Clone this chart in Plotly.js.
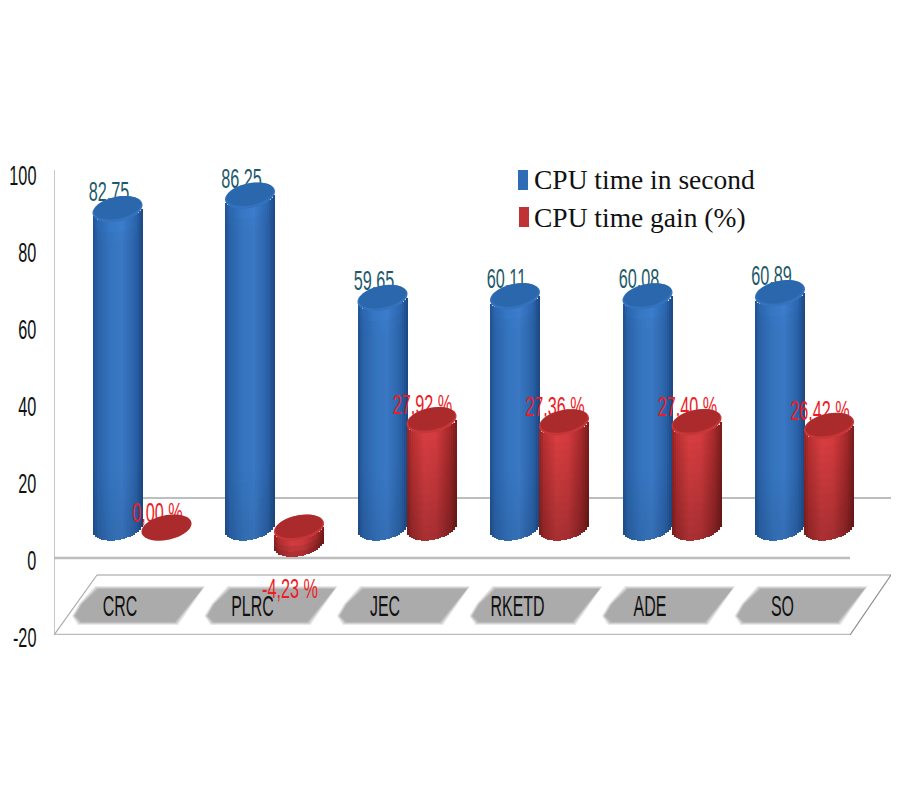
<!DOCTYPE html>
<html>
<head>
<meta charset="utf-8">
<script src="https://cdn.plot.ly/plotly-3.0.1.min.js"></script>
<style>html,body{margin:0;padding:0;background:#fff}</style>
</head>
<body>
<div id="chart" style="width:900px;height:800px"></div>
<script>
// ---- data ----
const categories = ['CRC', 'PLRC', 'JEC', 'RKETD', 'ADE', 'SO'];
const cpuTime = [82.75, 86.25, 59.65, 60.11, 60.08, 60.89];
const cpuGain = [0.00, -4.23, 27.92, 27.36, 27.40, 26.42];
const cpuTimeLabels = ['82,75', '86,25', '59,65', '60,11', '60,08', '60,89'];
const cpuGainLabels = ['0,00 %', '-4,23 %', '27,92 %', '27,36 %', '27,40 %', '26,42 %'];
const yTicks = [100, 80, 60, 40, 20, 0, -20];
const seriesNames = ['CPU time in second', 'CPU time gain (%)'];

// ---- geometry of the pseudo-3D drawing ----
const PX_X = 132.5, PX_Y = 3.85;      // pixels per data unit
const X0 = 142, Y0 = 558;             // pixel position of data origin
const L = 54, R = 891, T = 170, B = 635;
const dx = p => p / PX_X, dy = p => p / PX_Y;
const fx = p => (p - X0) / PX_X, fy = p => (Y0 - p) / PX_Y;
const FLOOR = 7.9;                    // the columns stand on this raised level
const OFFSET = 24.5, A = 25, Bb = 12.5, TILT = 4;

const blueProfile = [[-1,'#1f4f8e'],[-.8,'#2a62a8'],[-.3,'#3473bd'],[.15,'#3a78c4'],[.7,'#2a62a8'],[1,'#1b4680']];
const redProfile  = [[-1,'#962424'],[-.8,'#bb3032'],[-.3,'#dc3f42'],[.15,'#d83c40'],[.7,'#a92a2c'],[1,'#7d1c1c']];
const rgb = h => [1,3,5].map(i => parseInt(h.substr(i,2),16));
function shade(profile, u, f) {
  let k = 0;
  while (k < profile.length - 2 && u > profile[k+1][0]) k++;
  const a = profile[k], b = profile[k+1], t = Math.min(1, Math.max(0, (u-a[0])/(b[0]-a[0])));
  const ca = rgb(a[1]), cb = rgb(b[1]);
  return 'rgb(' + ca.map((c,i) => Math.round(Math.min(255,(c+(cb[i]-c)*t)*f))).join(',') + ')';
}
function stripes(values, off, profile, vert, segPx, name) {
  const x = [], y = [], base = [], width = [], color = [];
  const N = 25, w = 2 * A / N;
  values.forEach((v, i) => {
    const hi = FLOOR + Math.max(v, 0), lo = FLOOR + Math.min(v, 0);
    const h = hi - lo;
    if (h <= 0) return;
    const segs = Math.max(1, Math.ceil(h * PX_Y / segPx));
    for (let s = 0; s < N; s++) {
      const u = (s + .5) / N * 2 - 1;
      const edge = -Bb * Math.sqrt(1 - u*u) + TILT * u;
      for (let g = 0; g < segs; g++) {
        const tt = (g + .5) / segs;          // 0 bottom, 1 top
        x.push(i + dx(off) + dx(A * u));
        y.push(h / segs);
        base.push(lo + dy(edge) + h * g / segs);
        width.push(dx(w));
        color.push(shade(profile, u, vert(tt, h)));
      }
    }
  });
  return {type:'bar', x, y, base, width, marker:{color, line:{width:0}}, hoverinfo:'skip', showlegend:false, name};
}
function ellipse(cx, cyData, a, b, t, dyPx) {
  let d = '';
  for (let k = 0; k < 48; k++) {
    const th = k / 48 * 2 * Math.PI;
    const px = a * Math.cos(th), py = b * Math.sin(th) + t * Math.cos(th) + (dyPx || 0);
    d += (k ? 'L' : 'M') + (cx + dx(px)).toFixed(4) + ',' + (cyData + dy(py)).toFixed(3);
  }
  return d + 'Z';
}
function poly(pts) {
  return pts.map((p,k) => (k?'L':'M') + fx(p[0]).toFixed(4) + ',' + fy(p[1]).toFixed(3)).join('') + 'Z';
}
const shapes = [];
const sh = (path, fill, layer, line) => shapes.push({type:'path', xref:'x', yref:'y', path, fillcolor:fill, layer, line:line||{width:0}});
const seg = (x0,y0,x1,y1,color,w) => shapes.push({type:'line', xref:'x', yref:'y', x0:fx(x0), y0:fy(y0), x1:fx(x1), y1:fy(y1), layer:'below', line:{color, width:w}});

// back wall, zero plane, floor
seg(54,170,54,635,'#b4b4b4',1.5);
seg(143,498,891,498,'#a8a8a8',1.5);
seg(54,558,850,558,'#bdbdbd',2.5);
seg(54,635,850,635,'#bdbdbd',2.5);
seg(97,575,891,575,'#9a9a9a',1.2);
seg(54,635,97,575,'#aaaaaa',1.2);
seg(850,635,891,575,'#8c8c8c',1.2);
// grey plates behind category names
categories.forEach((c,i) => {
  const s = PX_X * i;
  const plate = g => poly([[97+s-g,588-g],[203+s+g,588-g],[176+s+g,623+g],[80+s-g,623+g],[74+s-g,616],[81+s-g,604]]);
  sh(plate(2),'#e8e8e8','below');
  sh(plate(1),'#d2d2d2','below');
  sh(plate(0),'#bcbcbc','below');
  sh(plate(-1),'#ababab','below');
});
function caps(values, off, rim, top) {
  values.forEach((v,i) => {
    const cx = i + dx(off), cy = FLOOR + Math.max(v,0);
    if (v !== 0) sh(ellipse(cx, cy, A, Bb, TILT), rim, 'above');
    sh(ellipse(cx, cy, v === 0 ? A : A - 1.5, v === 0 ? Bb : Bb - 1.5, TILT, v === 0 ? 0 : 1.2), top, 'above');
  });
}
caps(cpuTime, -OFFSET, '#3572bd', '#2b67ad');
caps(cpuGain, OFFSET, '#c43638', '#ab2b2c');

// legend marks
shapes.push({type:'rect',xref:'x',yref:'y',x0:fx(518),x1:fx(528),y0:fy(170),y1:fy(190),fillcolor:'#2f6cb6',line:{width:0},layer:'above'});
shapes.push({type:'rect',xref:'x',yref:'y',x0:fx(519),x1:fx(529),y0:fy(207),y1:fy(227),fillcolor:'#c03234',line:{width:0},layer:'above'});

const sans = '"Liberation Sans",sans-serif';
const labelFont = {family:sans, size:28};
const blueVert = (t,h) => {
  const fromTop = (1 - t) * h * PX_Y, fromBottom = t * h * PX_Y;
  return 1 + .05 * Math.max(0, 1 - fromTop / 20) - .08 * Math.max(0, 1 - fromBottom / 70);
};
const redVert = (t,h) => .76 + .22 * t;

const traces = [
  {type:'bar', name:seriesNames[0], x:categories.map((c,i)=>i+dx(-OFFSET)), y:cpuTime, base:cpuTime.map(()=>FLOOR),
   width:dx(40), marker:{color:'#3473bd', line:{width:0}}, showlegend:false},
  stripes(cpuTime, -OFFSET, blueProfile, blueVert, 10, 'shade'),
  {type:'bar', name:seriesNames[1], x:categories.map((c,i)=>i+dx(OFFSET)), y:cpuGain, base:cpuGain.map(()=>FLOOR),
   width:dx(40), marker:{color:'#d83c40', line:{width:0}}, showlegend:false},
  stripes(cpuGain, OFFSET, redProfile, redVert, 8, 'shade'),
  {type:'scatter', mode:'text', x:cpuTime.map((v,i)=>i+dx(-OFFSET-8.5)), y:cpuTime.map(v=>FLOOR+v+dy(15)),
   text:cpuTimeLabels, textposition:'middle center', textfont:Object.assign({color:'#1f5a6c'},labelFont),
   cliponaxis:false, showlegend:false, hoverinfo:'skip'},
  {type:'scatter', mode:'text', x:cpuGain.map((v,i)=>i+dx(OFFSET-9)),
   y:cpuGain.map(v=> v<0 ? FLOOR+v-dy(47) : FLOOR+v+dy(13)),
   text:cpuGainLabels, textposition:'middle center', textfont:Object.assign({color:'#ee1c25'},labelFont),
   cliponaxis:false, showlegend:false, hoverinfo:'skip'}
];

const annotations = seriesNames.map((t,k) => ({
  text:t, xref:'x', yref:'y', x:fx(531.5), y:fy(k?217:179), xanchor:'left', yanchor:'middle', showarrow:false,
  font:{family:'"Liberation Serif",serif', size:27.5, color:'#111'}
}));

const layout = {
  width:900, height:800, autosize:false,
  margin:{l:L, r:900-R, t:T, b:800-B, pad:0},
  paper_bgcolor:'#fff', plot_bgcolor:'#fff',
  barmode:'overlay', bargap:0, showlegend:false,
  xaxis:{type:'linear', range:[fx(L),fx(R)], tickvals:categories.map((c,i)=>i+dx(-22)), ticktext:categories,
    anchor:'free', position:(B-586)/(B-T), showgrid:false, zeroline:false, showline:false, ticks:'', ticklen:0,
    tickfont:{family:sans, size:29, color:'#111'}},
  yaxis:{range:[fy(B),fy(T)], tickvals:yTicks, ticktext:yTicks.map(String), showgrid:false, zeroline:false, showline:false,
    ticks:'outside', ticklen:11, tickcolor:'rgba(0,0,0,0)',
    tickfont:{family:sans, size:28, color:'#111'}},
  shapes, annotations
};
// the reference's sans text is horizontally squeezed: apply that to the drawn text elements
function squeeze(sel, sx, originRight, shiftY) {
  document.querySelectorAll(sel).forEach(t => {
    const b = t.getBBox();
    const ox = originRight ? b.x + b.width : b.x + b.width / 2;
    const prev = t.getAttribute('transform') || '';
    t.setAttribute('transform', prev + ' translate(' + ox + ',' + (shiftY || 0) + ') scale(' + sx + ',1) translate(' + (-ox) + ',0)');
  });
}
Plotly.newPlot('chart', traces, layout, {displayModeBar:false, staticPlot:true}).then(() => {
  squeeze('#chart .ytick text', .58, true, 2);
  squeeze('#chart .xtick text', .55, false);
  squeeze('#chart .textpoint text', .58, false);
});
</script>
</body>
</html>
